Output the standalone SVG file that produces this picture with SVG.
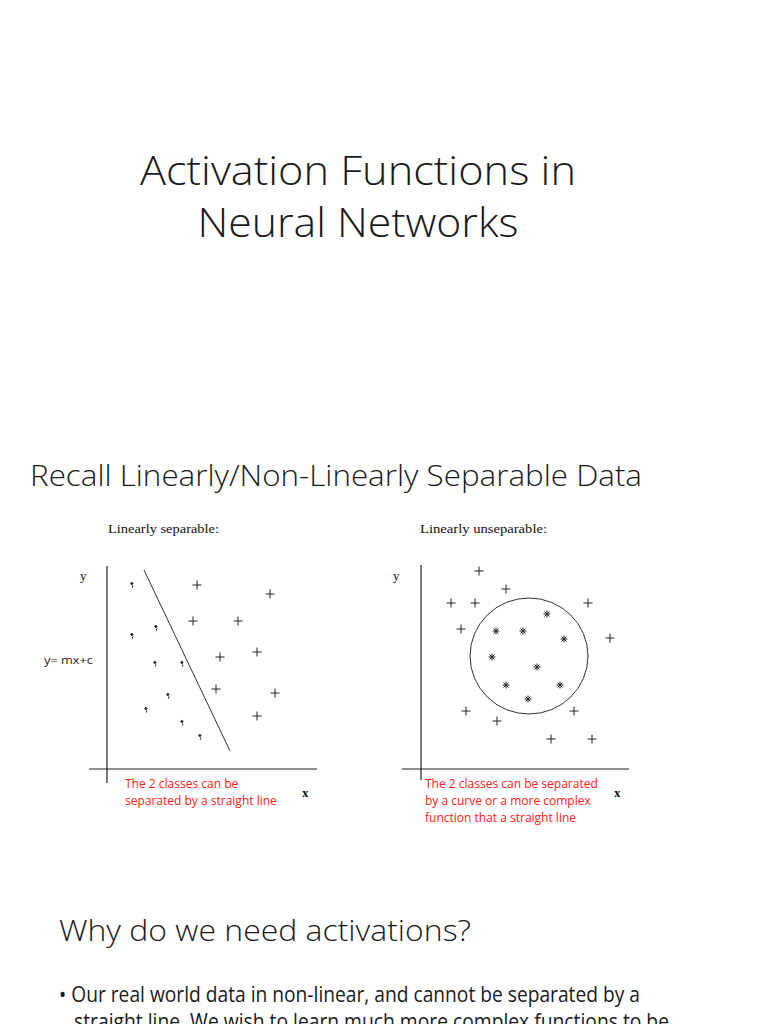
<svg xmlns="http://www.w3.org/2000/svg" width="768" height="1024" viewBox="0 0 768 1024">
<defs>
<style>
.h{font-family:"Open Sans","Liberation Sans",sans-serif;fill:#1a1a1a;font-weight:300}
.b{font-family:"Open Sans","Liberation Sans",sans-serif;fill:#1a1a1a;font-weight:400}
.s{font-family:"Liberation Serif",serif;fill:#111;font-size:13px}
.r{font-family:"Open Sans","Liberation Sans",sans-serif;fill:#ff2020;font-size:12px}
.ax{stroke:#222;stroke-width:1.2;fill:none}
.ln{stroke:#333;stroke-width:1;fill:none}
.p{stroke:#222;stroke-width:1;fill:none}
</style>
<path id="plus" d="M-4.5 0H4.5M0 -4.5V4.5" class="p"/>
<path id="comma" d="M-0.2 -1.4a1.1 1.1 0 1 1 0.1 0ZM0.9 -0.6l-0.5 2.2" stroke="#222" stroke-width="1" fill="#222"/>
<path id="star" d="M-3.5 0H3.5M0 -3.5V3.5M-2.5 -2.5L2.5 2.5M-2.5 2.5L2.5 -2.5" stroke="#222" stroke-width="1"/>
</defs>
<rect width="768" height="1024" fill="#fff"/>
<text class="h" x="358" y="185" font-size="40" text-anchor="middle" textLength="436" lengthAdjust="spacingAndGlyphs">Activation Functions in</text>
<text class="h" x="358" y="237" font-size="40" text-anchor="middle" textLength="321" lengthAdjust="spacingAndGlyphs">Neural Networks</text>
<text class="h" x="30" y="486" font-size="30" textLength="612" lengthAdjust="spacingAndGlyphs">Recall Linearly/Non-Linearly Separable Data</text>
<g id="left-plot">
<text class="s" x="108" y="533" textLength="111" lengthAdjust="spacingAndGlyphs">Linearly separable:</text>
<text class="s" x="80" y="580">y</text>
<text class="s" x="302" y="797" font-weight="bold">x</text>
<text class="b" x="44" y="664" font-size="11" textLength="49" lengthAdjust="spacingAndGlyphs">y= mx+c</text>
<path class="ax" d="M107 566V783M89 769H317"/>
<path class="ln" d="M144 570L230 751"/>
<use href="#plus" x="197" y="585"/><use href="#plus" x="270" y="594"/><use href="#plus" x="193" y="621"/><use href="#plus" x="238" y="621"/><use href="#plus" x="220" y="657"/><use href="#plus" x="257" y="652"/><use href="#plus" x="216" y="689"/><use href="#plus" x="275" y="693"/><use href="#plus" x="257" y="716"/>
<use href="#comma" x="132" y="586"/><use href="#comma" x="156" y="629"/><use href="#comma" x="132" y="637"/><use href="#comma" x="155" y="665"/><use href="#comma" x="182" y="665"/><use href="#comma" x="168" y="697"/><use href="#comma" x="146" y="711"/><use href="#comma" x="182" y="724"/><use href="#comma" x="200" y="738"/>
<text class="r" x="125" y="788">The 2 classes can be</text>
<text class="r" x="125" y="805">separated by a straight line</text>
</g>
<g id="right-plot">
<text class="s" x="420" y="533" textLength="127" lengthAdjust="spacingAndGlyphs">Linearly unseparable:</text>
<text class="s" x="393" y="580">y</text>
<text class="s" x="614" y="797" font-weight="bold">x</text>
<path class="ax" d="M421 565V780M402 769H629"/>
<ellipse class="ln" cx="529" cy="656" rx="59" ry="58"/>
<use href="#plus" x="479" y="571"/><use href="#plus" x="506" y="589"/><use href="#plus" x="451" y="603"/><use href="#plus" x="475" y="603"/><use href="#plus" x="588" y="603"/><use href="#plus" x="461" y="629"/><use href="#plus" x="610" y="638"/><use href="#plus" x="466" y="711"/><use href="#plus" x="497" y="721"/><use href="#plus" x="574" y="711"/><use href="#plus" x="551" y="739"/><use href="#plus" x="592" y="739"/>
<use href="#star" x="547" y="614"/><use href="#star" x="496" y="631"/><use href="#star" x="523" y="631"/><use href="#star" x="564" y="639"/><use href="#star" x="492" y="657"/><use href="#star" x="537" y="667"/><use href="#star" x="506" y="685"/><use href="#star" x="560" y="685"/><use href="#star" x="528" y="699"/>
<text class="r" x="425" y="788">The 2 classes can be separated</text>
<text class="r" x="425" y="805">by a curve or a more complex</text>
<text class="r" x="425" y="822">function that a straight line</text>
</g>
<text class="h" x="59" y="941" font-size="30" textLength="412" lengthAdjust="spacingAndGlyphs">Why do we need activations?</text>
<text class="b" x="59" y="1002" font-size="21" textLength="581" lengthAdjust="spacingAndGlyphs">•  Our real world data in non-linear, and cannot be separated by a</text>
<text class="b" x="74" y="1029" font-size="21" textLength="595" lengthAdjust="spacingAndGlyphs">straight line. We wish to learn much more complex functions to be</text>
</svg>
